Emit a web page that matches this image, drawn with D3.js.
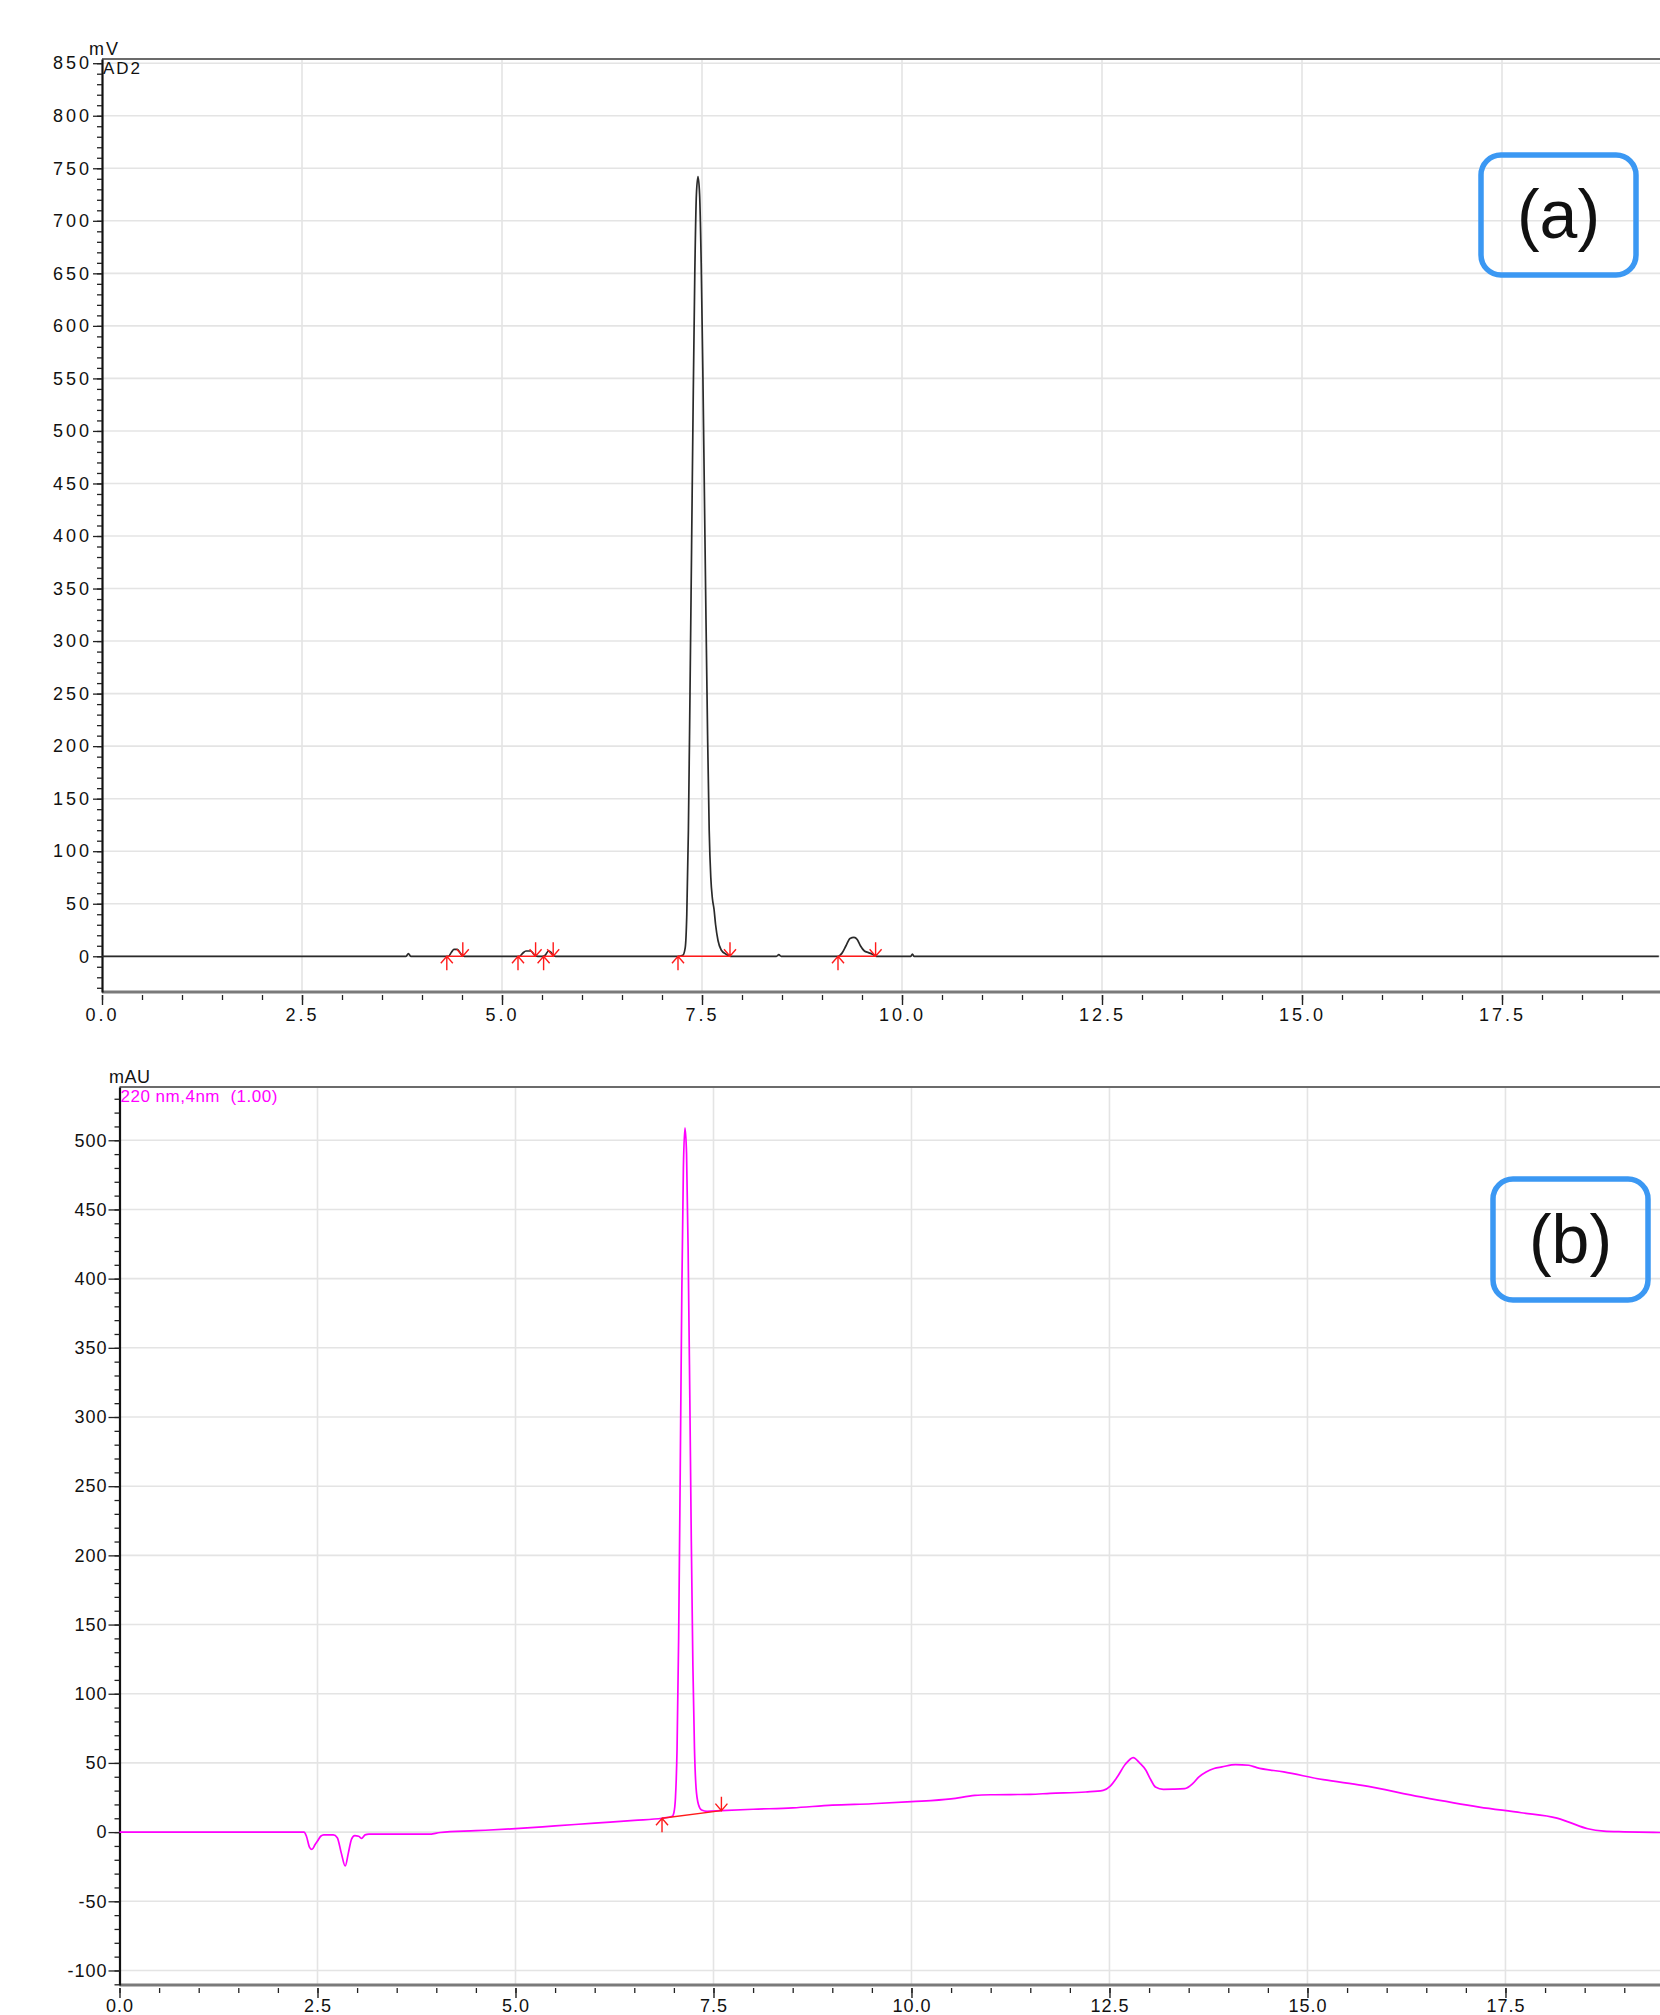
<!DOCTYPE html>
<html>
<head>
<meta charset="utf-8">
<script src="https://d3js.org/d3.v7.min.js"></script>
<style>
  body { margin: 0; background: #fff; }
  text { font-family: "Liberation Sans", Arial, sans-serif; }
</style>
</head>
<body>
<div id="container"></div>
<script>
/* ---- data ---- */

/* (a) detector AD2, signal in mV against time in min */
var traceA = [
  [0, 0], [3.80, 0], [3.83, 2.5], [3.86, 0],
  [4.33, 0], [4.37, 4], [4.40, 6.5], [4.44, 6.5], [4.47, 4], [4.50, 1], [4.53, 0],
  [5.22, 0], [5.26, 3], [5.30, 5], [5.36, 5], [5.41, 1], [5.45, 0], [5.50, 0],
  [5.54, 1], [5.58, 5], [5.61, 4], [5.64, 1], [5.67, 0],
  [7.20, 0], [7.26, 1], [7.29, 8], [7.31, 40], [7.33, 120], [7.35, 250], [7.37, 390],
  [7.39, 530], [7.41, 650], [7.43, 725], [7.45, 742], [7.47, 725], [7.49, 660],
  [7.51, 560], [7.53, 440], [7.55, 320], [7.57, 210], [7.59, 120], [7.61, 75],
  [7.63, 55], [7.65, 45], [7.67, 30], [7.70, 15], [7.74, 6], [7.80, 2], [7.86, 0],
  [8.43, 0], [8.46, 1.5], [8.49, 0],
  [9.20, 0], [9.25, 3], [9.30, 10], [9.35, 17], [9.40, 18], [9.44, 16], [9.48, 10],
  [9.53, 5], [9.58, 3.5], [9.63, 2], [9.68, 0],
  [10.11, 0], [10.13, 2], [10.15, 0], [19.46, 0]
];
var peakStartA = [4.31, 5.20, 5.52, 7.20, 9.20];
var peakEndA   = [4.51, 5.42, 5.64, 7.85, 9.67];
var startLevelA = [0, 0, 0, 0, 0];
var endLevelA   = [0, 0, 0, 0, 0];

/* (b) 220 nm UV, signal in mAU against time in min */
var traceB = [
  [0, 0], [2.33, 0], [2.36, -3], [2.40, -11], [2.43, -12.5], [2.47, -9], [2.50, -6.5],
  [2.54, -3], [2.58, -2], [2.70, -2], [2.75, -4], [2.80, -15], [2.85, -24.5],
  [2.89, -15], [2.93, -5], [2.97, -2.5], [3.02, -3], [3.06, -4.5], [3.10, -2],
  [3.15, -1.5], [3.50, -1.5], [3.90, -1.5], [4.05, -0.3], [4.50, 1], [5.00, 2.5],
  [5.50, 4.5], [6.00, 6.5], [6.50, 8.5], [6.85, 10], [6.98, 11.5],
  [7.00, 14], [7.02, 25], [7.04, 60], [7.06, 140], [7.08, 260], [7.10, 390],
  [7.12, 480], [7.14, 509], [7.16, 490], [7.18, 420], [7.20, 320], [7.22, 210],
  [7.24, 120], [7.26, 60], [7.28, 32], [7.31, 20], [7.35, 16], [7.42, 15],
  [7.60, 15.5], [8.00, 16.5], [8.50, 17.5], [9.00, 19.5], [9.50, 20.5], [10.00, 22],
  [10.50, 24], [10.80, 26.5], [11.00, 27], [11.50, 27.3], [11.75, 28], [12.20, 29],
  [12.42, 30.2], [12.51, 33.3], [12.60, 40], [12.70, 49], [12.80, 53.9], [12.88, 50],
  [12.96, 44.7], [13.02, 38], [13.08, 32.6], [13.18, 30.9], [13.30, 31], [13.45, 31.4],
  [13.55, 35], [13.63, 40], [13.72, 43.5], [13.82, 46], [13.92, 47.1], [14.09, 48.8],
  [14.26, 48.3], [14.36, 46.6], [14.70, 43.5], [15.20, 37.9], [15.69, 33.8],
  [16.43, 25.4], [17.17, 18.1], [17.70, 14], [18.15, 10.1], [18.30, 7.2], [18.54, 2.4],
  [18.74, 0.7], [19.00, 0.2], [19.46, -0.3]
];
var peakStartB = [6.85];
var peakEndB   = [7.60];
var startLevelB = [10];
var endLevelB   = [15.5];

/* axis ticks */
var xTicks = [0, 2.5, 5, 7.5, 10, 12.5, 15, 17.5];
var xTickLabels = ["0.0", "2.5", "5.0", "7.5", "10.0", "12.5", "15.0", "17.5"];
var yTicksA = [0, 50, 100, 150, 200, 250, 300, 350, 400, 450, 500, 550, 600, 650, 700, 750, 800, 850];
var yTicksB = [-100, -50, 0, 50, 100, 150, 200, 250, 300, 350, 400, 450, 500];

/* ---- setup ---- */
var W = 1660, H = 2015;

var svg = d3.select("#container")
            .append("svg")
            .attr("width", W)
            .attr("height", H)
            .style("display", "block")
            .style("background", "#fff")

var line = function(x, y) {
  return d3.line()
           .x(function(d) { return x(d[0]) })
           .y(function(d) { return y(d[1]) })
           .curve(d3.curveMonotoneX)
}

function drawPanel(p) {
  var g = svg.append("g")
  var x = p.x, y = p.y
  var left = x.range()[0], bottom = y.range()[0], top = y.range()[1]

  /* grid */
  g.selectAll(".hgrid").data(p.yTicks).enter().append("line")
    .attr("x1", left).attr("x2", W)
    .attr("y1", function(d) { return y(d) }).attr("y2", function(d) { return y(d) })
    .attr("stroke", "#e4e4e4").attr("stroke-width", 1.6)
  g.selectAll(".vgrid").data(xTicks.slice(1)).enter().append("line")
    .attr("x1", function(d) { return x(d) }).attr("x2", function(d) { return x(d) })
    .attr("y1", top).attr("y2", bottom)
    .attr("stroke", "#e4e4e4").attr("stroke-width", 1.6)

  /* frame top and bottom */
  g.append("line").attr("x1", left).attr("x2", W).attr("y1", top).attr("y2", top)
    .attr("stroke", "#6b6b6b").attr("stroke-width", 2)
  g.append("line").attr("x1", left).attr("x2", W).attr("y1", bottom).attr("y2", bottom)
    .attr("stroke", "#7a7a7a").attr("stroke-width", 3)

  /* y axis, minor then major ticks */
  var yMinor = g.append("g").attr("transform", "translate(" + left + ",0)")
    .call(d3.axisLeft(y).tickValues(p.yMinor).tickSize(5).tickSizeOuter(0).tickFormat(""))
  yMinor.select(".domain").attr("stroke", "#111").attr("stroke-width", 2.2)
  yMinor.selectAll(".tick line").attr("stroke", "#222").attr("stroke-width", 1.3)

  var yMajor = g.append("g").attr("transform", "translate(" + left + ",0)")
    .call(d3.axisLeft(y).tickValues(p.yTicks).tickSize(p.yTickLen).tickPadding(p.yPad)
      .tickFormat(function(d) { return String(d) }))
  yMajor.select(".domain").remove()
  yMajor.selectAll(".tick line").attr("stroke", "#222").attr("stroke-width", 1.3)
  yMajor.selectAll(".tick text")
    .attr("fill", "#111")
    .attr("font-size", p.font)
    .style("font-size", p.font + "px")
    .style("letter-spacing", p.spacing + "px")

  /* x axis */
  var xMinor = g.append("g").attr("transform", "translate(0," + (bottom + 3) + ")")
    .call(d3.axisBottom(x).tickValues(d3.range(0, 19.5, 0.5)).tickSize(5).tickFormat(""))
  xMinor.select(".domain").remove()
  xMinor.selectAll(".tick line").attr("stroke", "#222").attr("stroke-width", 1.3)

  var xMajor = g.append("g").attr("transform", "translate(0," + (bottom + 3) + ")")
    .call(d3.axisBottom(x).tickValues(xTicks).tickSize(10).tickPadding(p.xPad)
      .tickFormat(function(d, i) { return xTickLabels[i] }))
  xMajor.select(".domain").remove()
  xMajor.selectAll(".tick line").attr("stroke", "#222").attr("stroke-width", 1.4)
  xMajor.selectAll(".tick text")
    .attr("fill", "#111")
    .attr("font-size", p.font)
    .style("font-size", p.font + "px")
    .style("letter-spacing", p.spacing + "px")

  /* trace */
  g.append("path")
    .datum(p.trace)
    .attr("d", line(x, y))
    .attr("fill", "none")
    .attr("stroke", p.color)
    .attr("stroke-width", 1.7)

  /* integration baselines and start / end arrows */
  var red = "#ff1a1a"
  p.starts.forEach(function(s, i) {
    var x1 = x(s), y1 = y(p.startLevels[i]), x2 = x(p.ends[i]), y2 = y(p.endLevels[i])
    g.append("line").attr("x1", x1).attr("y1", y1).attr("x2", x2).attr("y2", y2)
      .attr("stroke", red).attr("stroke-width", 1.4)
    /* up arrow below the start */
    g.append("path")
      .attr("d", "M" + x1 + "," + (y1 + 14) + "V" + y1 + "M" + (x1 - 6) + "," + (y1 + 7) +
                 "L" + x1 + "," + y1 + "L" + (x1 + 6) + "," + (y1 + 7))
      .attr("fill", "none").attr("stroke", red).attr("stroke-width", 1.4)
    /* down arrow above the end */
    g.append("path")
      .attr("d", "M" + x2 + "," + (y2 - 14) + "V" + y2 + "M" + (x2 - 6) + "," + (y2 - 7) +
                 "L" + x2 + "," + y2 + "L" + (x2 + 6) + "," + (y2 - 7))
      .attr("fill", "none").attr("stroke", red).attr("stroke-width", 1.4)
  })

  /* unit and channel labels */
  g.append("text").attr("x", p.unitX).attr("y", top - 4)
    .style("font-size", "18px").style("letter-spacing", p.labelSpacing + "px")
    .attr("fill", "#111").text(p.unit)
  g.append("text").attr("x", left + 1).attr("y", top + 15)
    .style("font-size", p.chanFont + "px").style("letter-spacing", p.labelSpacing + "px")
    .attr("fill", p.chanColor).attr("xml:space", "preserve").text(p.channel)

  /* panel tag in a rounded box */
  g.append("rect")
    .attr("x", p.box[0]).attr("y", p.box[1]).attr("width", p.box[2]).attr("height", p.box[3])
    .attr("rx", 20).attr("fill", "none")
    .attr("stroke", "#3b98f3").attr("stroke-width", 5.5)
  g.append("text")
    .attr("x", p.box[0] + p.box[2] / 2).attr("y", p.box[1] + p.box[3] / 2 + 23)
    .attr("text-anchor", "middle")
    .style("font-size", "68px").attr("fill", "#111")
    .text(p.tag)
}

/* panel (a) */
drawPanel({
  x: d3.scaleLinear().domain([0, 19.4625]).range([102, 1659]),
  y: d3.scaleLinear().domain([-34, 854]).range([992, 59]),
  yTicks: yTicksA,
  yMinor: d3.range(-30, 851, 10),
  yTickLen: 9, yPad: 1, xPad: 3,
  font: 18, spacing: 3, labelSpacing: 2,
  trace: traceA, color: "#2a2a2a",
  starts: peakStartA, ends: peakEndA, startLevels: startLevelA, endLevels: endLevelA,
  unit: "mV", unitX: 89,
  channel: "AD2", chanFont: 17, chanColor: "#111",
  box: [1481, 155, 155, 120], tag: "(a)"
})

/* panel (b) */
drawPanel({
  x: d3.scaleLinear().domain([0, 19.46]).range([119.5, 1660.7]),
  y: d3.scaleLinear().domain([-110.5, 538.5]).range([1985, 1087]),
  yTicks: yTicksB,
  yMinor: d3.range(-110, 531, 10),
  yTickLen: 11, yPad: 1, xPad: 1,
  font: 18, spacing: 1, labelSpacing: 0.5,
  trace: traceB, color: "#ff00ff",
  starts: peakStartB, ends: peakEndB, startLevels: startLevelB, endLevels: endLevelB,
  unit: "mAU", unitX: 109,
  channel: "220 nm,4nm  (1.00)", chanFont: 17, chanColor: "#ff00ff",
  box: [1493, 1179, 155, 121], tag: "(b)"
})
</script>
</body>
</html>
